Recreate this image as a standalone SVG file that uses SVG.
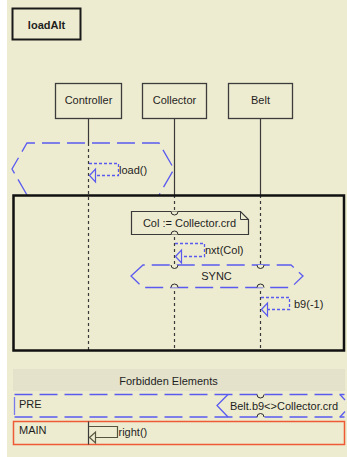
<svg xmlns="http://www.w3.org/2000/svg" width="347" height="457" viewBox="0 0 347 457">
<style>
text{font-family:"Liberation Sans",Arial,sans-serif;font-size:11px;fill:#1e1e1e}
.box{fill:none;stroke:#3c3c3c;stroke-width:1.3}
.ll{fill:none;stroke:#3a3a3a;stroke-width:1.2}
.lld{fill:none;stroke:#3a3a3a;stroke-width:1.2;stroke-dasharray:3 3}
.blue{fill:none;stroke:#5a5af0;stroke-width:1.3;stroke-dasharray:18 7}
.self{fill:none;stroke:#5a5af0;stroke-width:1.3;stroke-dasharray:3 2}
.arr{fill:#eeecd0;stroke:#5a5af0;stroke-width:1.2}
.mk{fill:#eeecd0;stroke:#2a2a2a;stroke-width:1}
</style>
<rect x="0" y="0" width="347" height="457" fill="#ffffff"/>
<rect x="7" y="0" width="340" height="457" fill="#eeecd0"/>

<g id="title">
<rect x="12.5" y="8.5" width="68" height="31" fill="none" stroke="#1a1a1a" stroke-width="2"/>
<text x="46.5" y="29" text-anchor="middle" font-weight="bold">loadAlt</text>
</g>

<g id="Controller">
<rect class="box" x="55.5" y="83.5" width="66" height="35"/>
<text x="88.5" y="104" text-anchor="middle">Controller</text>
</g>
<g id="Collector">
<rect class="box" x="142.5" y="83.5" width="64" height="35"/>
<text x="174.5" y="104" text-anchor="middle">Collector</text>
</g>
<g id="Belt">
<rect class="box" x="228.5" y="83.5" width="64" height="35"/>
<text x="260.5" y="104" text-anchor="middle">Belt</text>
</g>

<g id="connectors">
<line class="ll" x1="88.5" y1="119" x2="88.5" y2="143"/>
<line class="lld" x1="88.5" y1="143" x2="88.5" y2="350"/>
<line class="ll" x1="174.5" y1="119" x2="174.5" y2="195"/>
<line class="lld" x1="174.5" y1="195" x2="174.5" y2="350"/>
<line class="ll" x1="260.5" y1="119" x2="260.5" y2="195"/>
<line class="lld" x1="260.5" y1="195" x2="260.5" y2="350"/>

<g id="msg-load">
<path class="self" d="M89,163.5 H118.5 V175.5 H95"/>
<polygon class="arr" points="89.5,175.5 95.5,169 95.5,182"/>
<text x="119" y="174">load()</text>
</g>
<g id="msg-nxt">
<path class="self" d="M175,243.5 H204.5 V256.5 H181"/>
<polygon class="arr" points="175.5,256.5 181.5,250 181.5,263"/>
<text x="205" y="254">nxt(Col)</text>
</g>
<g id="msg-b9">
<path class="self" d="M261,297.5 H289.5 V309.5 H267"/>
<polygon class="arr" points="261.5,309.5 267.5,303 267.5,316"/>
<text x="294" y="308">b9(-1)</text>
</g>
</g>

<g id="alt-region">
<polyline class="blue" points="27,195 12,169 27,143 159,143 174,169 159,195"/>
</g>

<g id="frame">
<rect x="13.5" y="195.5" width="330.5" height="155" fill="none" stroke="#111" stroke-width="2.5"/>
</g>

<g id="note">
<path d="M131.5,211.5 H240.5 L248.5,219.5 V234.5 H131.5 Z" fill="#eeecd0" stroke="#3a3a3a" stroke-width="1.2"/>
<path d="M240.5,211.5 V219.5 H248.5" fill="none" stroke="#3a3a3a" stroke-width="1"/>
<path class="mk" d="M171,211.5 A3.5,3.5 0 0 0 178,211.5"/>
<path class="mk" d="M171,234.5 A3.5,3.5 0 0 1 178,234.5"/>
<text x="189.5" y="227" text-anchor="middle">Col := Collector.crd</text>
</g>

<g id="sync">
<polygon points="131,276 143,265 291,265 303,276 291,287.5 143,287.5" fill="#eeecd0" stroke="none"/>
<polygon class="blue" points="131,276 143,265 291,265 303,276 291,287.5 143,287.5"/>
<path class="mk" d="M171,265 A3.5,3.5 0 0 0 178,265"/>
<path class="mk" d="M257,265 A3.5,3.5 0 0 0 264,265"/>
<path class="mk" d="M171,287.5 A3.5,3.5 0 0 1 178,287.5"/>
<path class="mk" d="M257,287.5 A3.5,3.5 0 0 1 264,287.5"/>
<text x="216.5" y="280" text-anchor="middle">SYNC</text>
</g>

<g id="forbidden">
<rect x="13" y="369" width="332" height="22" fill="#e4e2cb"/>
<text x="168.5" y="385" text-anchor="middle">Forbidden Elements</text>
</g>

<g id="PRE">
<path class="blue" d="M14.5,394.5 H344.5 M14.5,417 H344.5"/>
<line x1="14.5" y1="397" x2="14.5" y2="415" stroke="#7a7af0" stroke-width="1.3"/>
<text x="19" y="408">PRE</text>
<polyline points="228,394.5 217,405.5 228,417" fill="none" stroke="#5a5af0" stroke-width="1.3"/>
<polyline points="340,394.5 345,400 M340,417" fill="none" stroke="#5a5af0" stroke-width="1.3"/>
<polyline points="340,417 345,411.5" fill="none" stroke="#5a5af0" stroke-width="1.3"/>
<path class="mk" d="M257,394.5 A3.5,3.5 0 0 0 264,394.5"/>
<path class="mk" d="M257,417 A3.5,3.5 0 0 1 264,417"/>
<text x="284" y="410" text-anchor="middle">Belt.b9&lt;&gt;Collector.crd</text>
</g>

<g id="MAIN">
<rect x="13.5" y="421.5" width="331" height="23" fill="none" stroke="#ee5a35" stroke-width="1.5"/>
<text x="19" y="434">MAIN</text>
<line x1="88.5" y1="421.5" x2="88.5" y2="444.5" stroke="#3a3a3a" stroke-width="1.2"/>
<path d="M89,426.5 H117.5 V437.5 H95" fill="none" stroke="#55553f" stroke-width="1.2"/>
<polygon points="89.5,437.5 95.5,432 95.5,443" fill="#eeecd0" stroke="#55553f" stroke-width="1.2"/>
<text x="118.5" y="436">right()</text>
</g>
</svg>
